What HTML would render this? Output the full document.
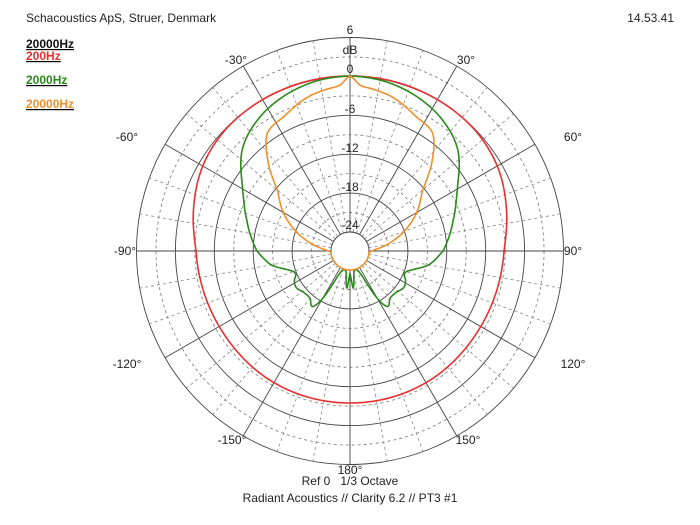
<!DOCTYPE html>
<html><head><meta charset="utf-8"><style>
html,body{margin:0;padding:0;background:#fff;}
svg{display:block;font-family:"Liberation Sans",Arial,sans-serif;}
</style></head><body>
<svg id="s" width="700" height="525" viewBox="0 0 700 525" xmlns="http://www.w3.org/2000/svg">
<rect width="700" height="525" fill="#fff"/>
<g id="grid"></g>
<g id="curves"></g>
<g id="labels" font-size="12" fill="#222" text-anchor="middle">
<text x="350" y="34">6</text>
<text x="350" y="54">dB</text>
<text x="350" y="73">0</text>
<text x="350" y="113">-6</text>
<text x="350" y="152">-12</text>
<text x="350" y="191">-18</text>
<text x="350" y="229">-24</text>
<text x="236" y="64">-30°</text>
<text x="466" y="64">30°</text>
<text x="127" y="141">-60°</text>
<text x="573" y="141">60°</text>
<text x="125" y="255">-90°</text>
<text x="573" y="255">90°</text>
<text x="127" y="368">-120°</text>
<text x="573" y="368">120°</text>
<text x="232" y="444">-150°</text>
<text x="468" y="444">150°</text>
<text x="350" y="474">180°</text>
<text x="350" y="485" style="white-space:pre">Ref 0   1/3 Octave</text>
<text x="350" y="502">Radiant Acoustics // Clarity 6.2 // PT3 #1</text>
</g>
<text x="26" y="22" font-size="12" fill="#222">Schacoustics ApS, Struer, Denmark</text>
<text x="674" y="22" font-size="12" fill="#222" text-anchor="end">14.53.41</text>
<g font-size="12" font-weight="bold" text-decoration="underline">
<text x="26" y="48" fill="#111">20000Hz</text>
<text x="26" y="60" fill="#e83030">200Hz</text>
<text x="26" y="84" fill="#2a8a1a">2000Hz</text>
<text x="26" y="108" fill="#f0902a">20000Hz</text>
</g>
</svg>
<script>
var cx=350,cy=251,NS="http://www.w3.org/2000/svg";
function el(p,t,a){var e=document.createElementNS(NS,t);for(var k in a)e.setAttribute(k,a[k]);p.appendChild(e);return e;}
var g=document.getElementById('grid');
var r0=19,step=38.9;
for(var i=0;i<=10;i++){var r=r0+i*step/2;var solid=i%2==0;
 el(g,'circle',{cx:cx,cy:cy,r:r,fill:'none',stroke:solid?'#444':'#777','stroke-width':solid?0.9:0.8,'stroke-dasharray':solid?'':'3,3'});}
var R=r0+5*step;
for(var a=0;a<360;a+=10){var t=a*Math.PI/180,s=Math.sin(t),c=Math.cos(t);var solid=a%30==0;
 el(g,'line',{x1:cx+r0*s,y1:cy-r0*c,x2:cx+R*s,y2:cy-R*c,stroke:solid?'#444':'#888','stroke-width':solid?0.9:0.8,'stroke-dasharray':solid?'':'3,3'});}
el(g,'circle',{cx:cx,cy:cy,r:r0,fill:'#fff',stroke:'#444','stroke-width':0.9});
function curve(pts,col){
 var A=[],Rr=[];pts.forEach(function(p){A.push(p[0]);Rr.push(p[1]);});
 function rAt(th){for(var i=0;i<A.length-1;i++){if(th>=A[i]&&th<=A[i+1]){
  var p0=Rr[Math.max(0,i-1)],p1=Rr[i],p2=Rr[i+1],p3=Rr[Math.min(A.length-1,i+2)];
  var u=(th-A[i])/(A[i+1]-A[i]);
  return 0.5*((2*p1)+(-p0+p2)*u+(2*p0-5*p1+4*p2-p3)*u*u+(-p0+3*p1-3*p2+p3)*u*u*u);}}return Rr[Rr.length-1];}
 var d='';
 for(var th=-180;th<=180;th+=0.5){var r=Math.max(19,rAt(Math.abs(th)));var t=th*Math.PI/180;
  d+=(d?'L':'M')+(cx+r*Math.sin(t)).toFixed(2)+','+(cy-r*Math.cos(t)).toFixed(2);}
 el(document.getElementById('curves'),'path',{d:d+'Z',fill:'none',stroke:col,'stroke-width':1.6});
}
curve([[0,175],[20,175],[45,174],[60,170],[75,162],[90,154],[120,151],[150,152],[180,152]],'#e83030');
curve([[0,175],[15,172],[32,163],[46,149],[60,124],[73,108],[90,93],[100,80],[108,63],[113,59],[118,63],[124,65],[132,62],[140,62],[146,67],[150,55],[154,28],[160,20],[170,22],[175,37],[177,30],[180,22]],'#2a8a1a');
curve([[0,175],[3.5,166],[9,163],[16,159],[26,150],[35,144],[42,123],[50,95],[60,77],[71,56],[80,38],[88,24],[95,19],[180,19]],'#f0902a');
</script>
</body></html>
